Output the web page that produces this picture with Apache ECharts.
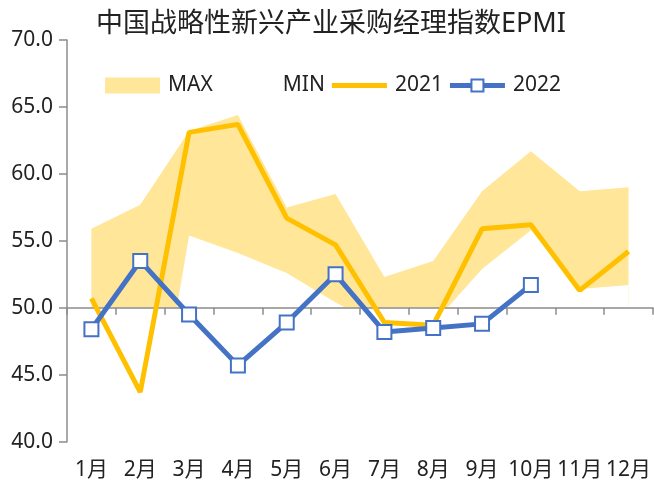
<!DOCTYPE html>
<html>
<head>
<meta charset="utf-8">
<script src="https://cdn.jsdelivr.net/npm/echarts@6/dist/echarts.min.js"></script>
<style>
html,body{margin:0;padding:0;background:#fff;}
#chart{width:654px;height:484px;}
</style>
</head>
<body>
<div id="chart"></div>
<script>
var categories = ['1月','2月','3月','4月','5月','6月','7月','8月','9月','10月','11月','12月'];
var maxValues = [55.9, 57.7, 63.2, 64.4, 57.5, 58.5, 52.3, 53.5, 58.7, 61.7, 58.7, 59.0];
var minValues = [47.0, 34.0, 55.4, 54.1, 52.6, 50.4, 48.5, 48.8, 52.9, 55.8, 51.4, 51.7];
var values2021 = [50.7, 43.7, 63.1, 63.7, 56.7, 54.7, 48.9, 48.7, 55.9, 56.2, 51.3, 54.2];
var values2022 = [48.4, 53.5, 49.5, 45.7, 48.9, 52.5, 48.2, 48.5, 48.8, 51.7];
var yTicks = {min: 40, max: 70, interval: 5};
var axisCross = 50;

var FONT = "'Noto Sans', 'Noto Sans CJK SC', sans-serif";
var gridTop = 40, gridBottom = 42.3;
var gridH = 484 - gridTop - gridBottom;
var crossOffset = -gridH * (axisCross - yTicks.min) / (yTicks.max - yTicks.min);

// legend icons (bounding box 55 x 16)
var lineIcon = 'path://M0,0L0.05,0L0.05,0.05Z M0,5.5L55,5.5L55,10.5L0,10.5Z M0,16L0.05,16L0.05,15.95Z';
var lineSquareIcon = 'path://M0,0L0.05,0L0.05,0.05Z M0,5.5L20.5,5.5L20.5,10.5L0,10.5Z M34.5,5.5L55,5.5L55,10.5L34.5,10.5Z ' +
  'M20.5,1L34.5,1L34.5,15L20.5,15Z M22.5,13L32.5,13L32.5,3L22.5,3Z M0,16L0.05,16L0.05,15.95Z';

var chart = echarts.init(document.getElementById('chart'), null, {renderer: 'canvas'});
chart.setOption({
  animation: false,
  backgroundColor: '#fff',
  title: {
    text: '中国战略性新兴产业采购经理指数EPMI',
    left: 91, top: 6,
    textStyle: {fontFamily: FONT, fontSize: 27, fontWeight: 'normal', color: '#222'}
  },
  legend: {
    left: 100, top: 70,
    itemWidth: 55, itemHeight: 16, itemGap: 7,
    textStyle: {fontFamily: FONT, fontSize: 21, color: '#222', padding: [0, 0, 0, 3]},
    data: [
      {name: 'MAX', icon: 'rect', itemStyle: {color: '#FFE699', borderWidth: 0}},
      {name: 'MIN', icon: 'rect', itemStyle: {color: '#FFFFFF', borderWidth: 0}},
      {name: '2021', icon: lineIcon, itemStyle: {color: '#FFC000', borderWidth: 0}},
      {name: '2022', icon: lineSquareIcon, itemStyle: {color: '#4472C4', borderWidth: 0}}
    ]
  },
  grid: {left: 67, right: 0, top: gridTop, bottom: gridBottom, containLabel: false},
  xAxis: {
    type: 'category',
    data: categories,
    boundaryGap: true,
    offset: crossOffset,
    z: 2,
    axisLine: {onZero: false, lineStyle: {color: '#8c8c8c', width: 1.5}},
    axisTick: {show: true, length: 7, alignWithLabel: false, lineStyle: {color: '#8c8c8c', width: 1.5}},
    axisLabel: {margin: 152, fontFamily: FONT, fontSize: 21, color: '#222', interval: 0},
    splitLine: {show: false}
  },
  yAxis: {
    type: 'value',
    min: yTicks.min, max: yTicks.max, interval: yTicks.interval,
    axisLine: {show: true, lineStyle: {color: '#8c8c8c', width: 1.5}},
    axisTick: {show: true, length: 8, lineStyle: {color: '#8c8c8c', width: 1.5}},
    axisLabel: {margin: 14, fontFamily: FONT, fontSize: 21, color: '#222',
      formatter: function (v) { return v.toFixed(1); }},
    splitLine: {show: false}
  },
  series: [
    {
      name: 'MAX', type: 'line', data: maxValues, z: 1,
      symbol: 'none', silent: true,
      itemStyle: {color: '#FFE699'},
      lineStyle: {width: 0, opacity: 0},
      areaStyle: {color: '#FFE699', opacity: 1, origin: axisCross}
    },
    {
      name: 'MIN', type: 'line', data: minValues, z: 1,
      symbol: 'none', silent: true,
      itemStyle: {color: '#FFFFFF'},
      lineStyle: {width: 0, opacity: 0},
      areaStyle: {color: '#FFFFFF', opacity: 1, origin: axisCross}
    },
    {
      name: '2021', type: 'line', data: values2021, z: 3,
      symbol: 'none',
      itemStyle: {color: '#FFC000'},
      lineStyle: {color: '#FFC000', width: 5}
    },
    {
      name: '2022', type: 'line', data: values2022, z: 4,
      symbol: 'rect', symbolSize: 14, showSymbol: true,
      itemStyle: {color: '#FFFFFF', borderColor: '#4472C4', borderWidth: 2},
      lineStyle: {color: '#4472C4', width: 5}
    }
  ]
});
</script>
</body>
</html>
